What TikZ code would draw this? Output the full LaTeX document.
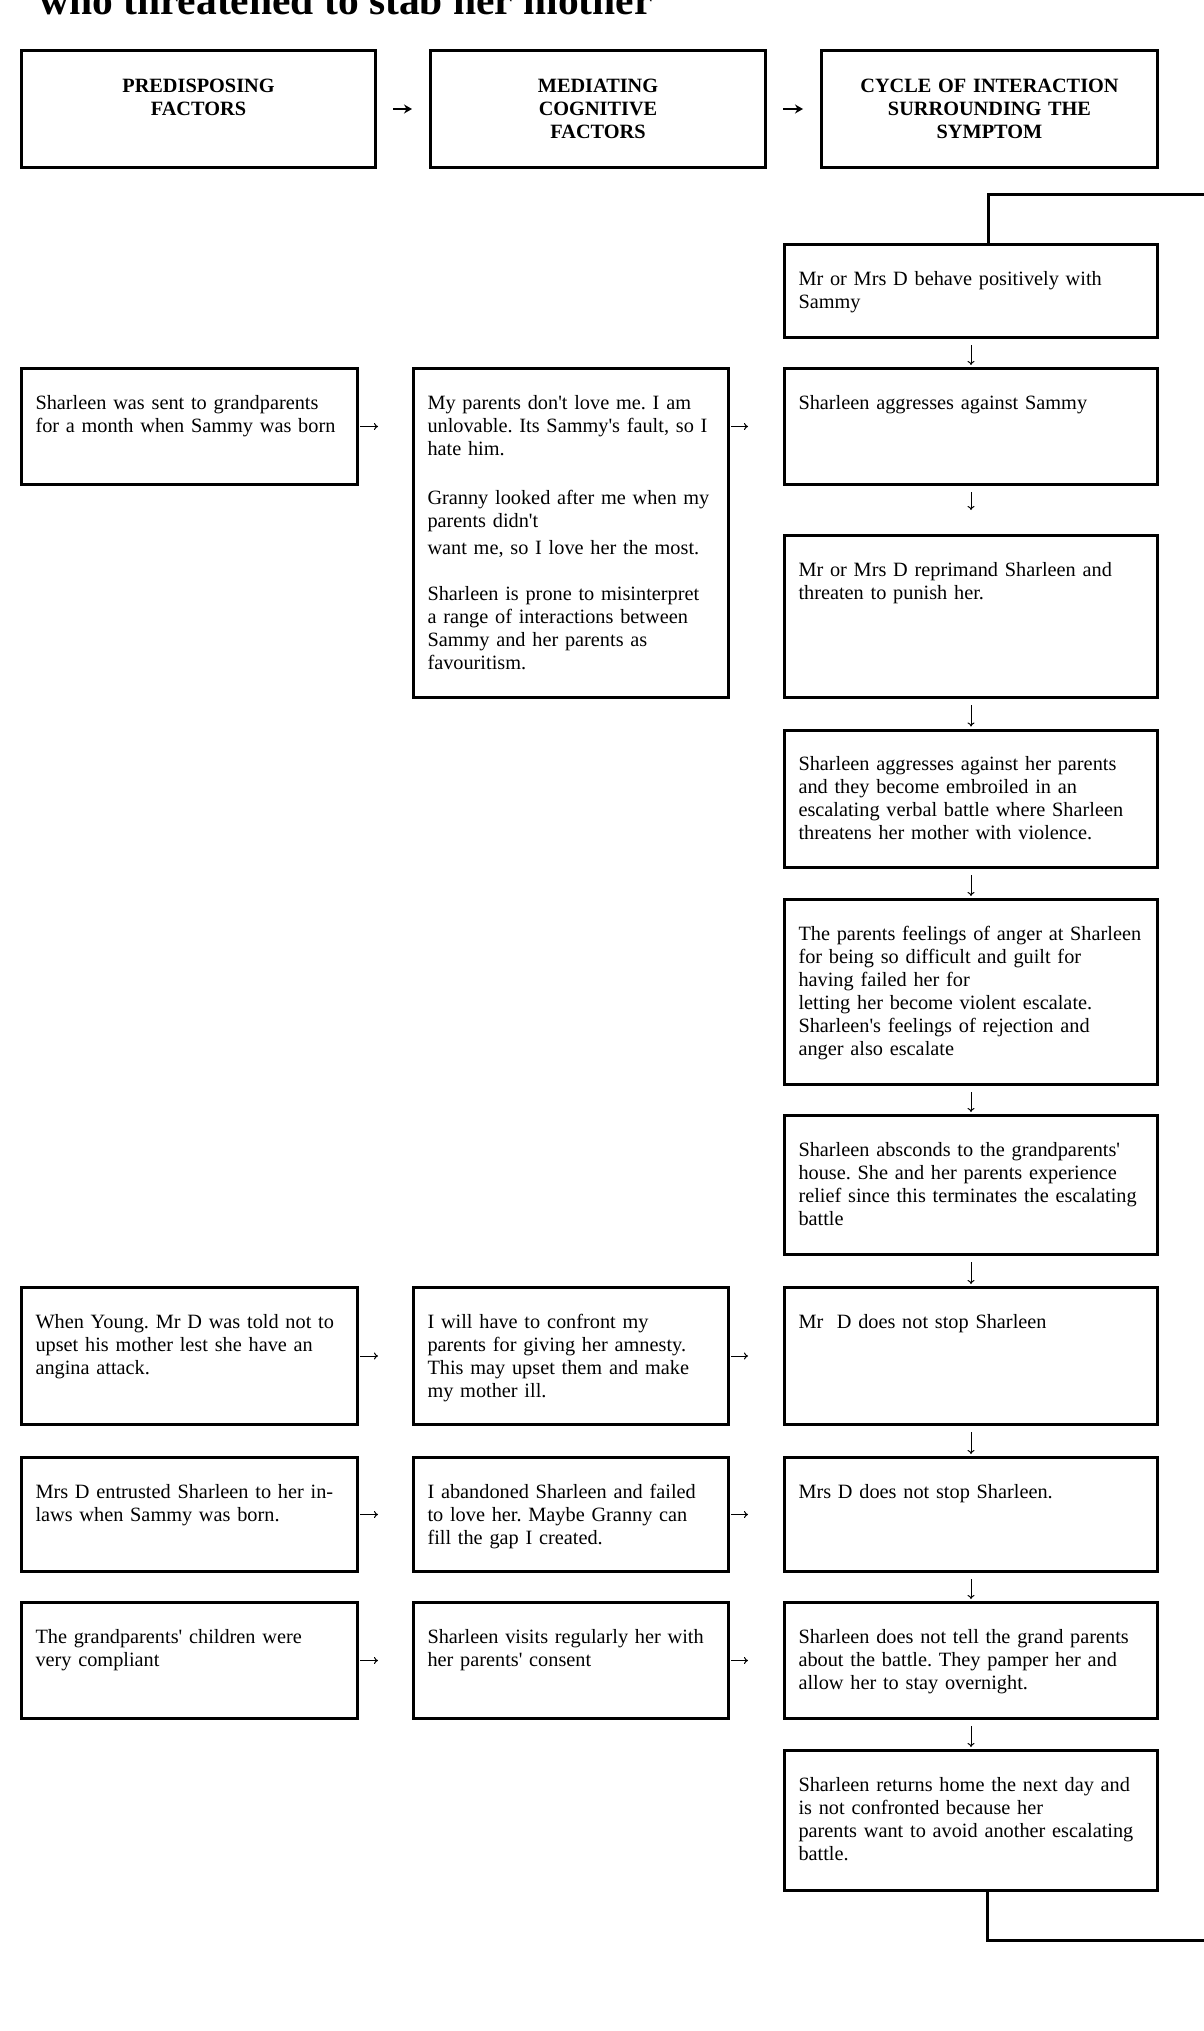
\documentclass[tikz,border=0pt]{standalone}
\usepackage{fontspec}
\setmainfont{Liberation Serif}[Ligatures=TeXOff]
\usetikzlibrary{positioning, arrows.meta}

\newcommand{\cellfont}{\frenchspacing\fontsize{20.3}{23}\selectfont}
\tikzstyle{head} = [rectangle, draw=black, line width=3pt, inner sep=0pt, text height=42pt, text depth=75pt, align=center, font=\cellfont\bfseries]
\tikzstyle{cell} = [rectangle, draw=black, line width=3pt, inner xsep=14pt, inner ysep=0pt, text height=40.5pt, align=left, font=\cellfont]
\tikzstyle{lcol} = [text width=308pt]
\tikzstyle{mcol} = [text width=287pt]
\tikzstyle{rcol} = [text width=345pt]
\tikzset{boxh/.style={text depth={#1-40.5pt}}}
\tikzstyle{arrow} = [line width=1pt, -{To[length=4pt,width=7pt]}]
\tikzstyle{bigarrow} = [line width=2.2pt, -{Stealth[length=8pt,width=9pt]}]
\tikzstyle{loopline} = [line width=3pt]

\begin{document}
\begin{tikzpicture}[x=1pt, y=-1pt]
\useasboundingbox (0,0) rectangle (1203,2031);

% Title (cut off at the top)
\node (title) [anchor=base west, inner sep=0pt, font=\bfseries\fontsize{41.5}{48}\selectfont] at (39,15) {who threatened to stab her mother};

% Column headers
\node (hdr3) [head, text width=336pt, anchor=north east] at (1159,49) {CYCLE OF INTERACTION\\SURROUNDING THE\\SYMPTOM};
\node (hdr2) [head, text width=335pt, left=53pt of hdr3] {MEDIATING\\COGNITIVE\\FACTORS};
\node (hdr1) [head, text width=354pt, left=52pt of hdr2] {PREDISPOSING\\FACTORS};

% Cycle of interaction
\node (r1) [cell, rcol, boxh=93pt] at (971,291) {Mr or Mrs D behave positively with\\Sammy};
\node (r2) [cell, rcol, boxh=116pt, below=28pt of r1] {Sharleen aggresses against Sammy};
\node (r3) [cell, rcol, boxh=162pt, below=48pt of r2] {Mr or Mrs D reprimand Sharleen and\\threaten to punish her.};
\node (r4) [cell, rcol, boxh=137.5pt, below=29.5pt of r3] {Sharleen aggresses against her parents\\and they become embroiled in an\\escalating verbal battle where Sharleen\\threatens her mother with violence.};
\node (r5) [cell, rcol, boxh=185pt, below=29pt of r4] {The parents feelings of anger at Sharleen\\for being so difficult and guilt for\\having failed her for\\letting her become violent escalate.\\Sharleen's feelings of rejection and\\anger also escalate};
\node (r6) [cell, rcol, boxh=139pt, below=28pt of r5] {Sharleen absconds to the grandparents'\\house. She and her parents experience\\relief since this terminates the escalating\\battle};
\node (r7) [cell, rcol, boxh=137pt, below=30pt of r6] {Mr\ \ D does not stop Sharleen};
\node (r8) [cell, rcol, boxh=114pt, below=30pt of r7] {Mrs D does not stop Sharleen.};
\node (r9) [cell, rcol, boxh=116pt, below=28pt of r8] {Sharleen does not tell the grand parents\\about the battle. They pamper her and\\allow her to stay overnight.};
\node (r10) [cell, rcol, boxh=140pt, below=29pt of r9] {Sharleen returns home the next day and\\is not confronted because her\\parents want to avoid another escalating\\battle.};

% Mediating cognitive factors
\node (m1) [cell, mcol, boxh=329pt, anchor=north east] at ([xshift=-53pt]r2.north west) {My parents don't love me. I am\\unlovable. Its Sammy's fault, so I\\hate him.\\[26pt]Granny looked after me when my\\parents didn't\\[4pt]want me, so I love her the most.\\[23pt]Sharleen is prone to misinterpret\\a range of interactions between\\Sammy and her parents as\\favouritism.};
\node (m2) [cell, mcol, boxh=137pt, left=53pt of r7] {I will have to confront my\\parents for giving her amnesty.\\This may upset them and make\\my mother ill.};
\node (m3) [cell, mcol, boxh=114pt, left=53pt of r8] {I abandoned Sharleen and failed\\to love her. Maybe Granny can\\fill the gap I created.};
\node (m4) [cell, mcol, boxh=116pt, left=53pt of r9] {Sharleen visits regularly her with\\her parents' consent};

% Predisposing factors
\node (l1) [cell, lcol, boxh=116pt, anchor=north east] at ([xshift=-53pt]m1.north west) {Sharleen was sent to grandparents\\for a month when Sammy was born};
\node (l2) [cell, lcol, boxh=137pt, left=53pt of m2] {When Young. Mr D was told not to\\upset his mother lest she have an\\angina attack.};
\node (l3) [cell, lcol, boxh=114pt, left=53pt of m3] {Mrs D entrusted Sharleen to her in-\\laws when Sammy was born.};
\node (l4) [cell, lcol, boxh=116pt, left=53pt of m4] {The grandparents' children were\\very compliant};

% Arrows between headers
\draw [bigarrow, shorten <=16pt, shorten >=17pt] (hdr1.east) -- (hdr2.west);
\draw [bigarrow, shorten <=16pt, shorten >=17pt] (hdr2.east) -- (hdr3.west);

% Arrows down the cycle
\draw [arrow, shorten <=6pt, shorten >=2pt] (r1.south) -- (r2.north);
\draw [arrow, shorten <=6pt, shorten >=24pt] (r2.south) -- (r3.north);
\draw [arrow, shorten <=6pt, shorten >=2pt] (r3.south) -- (r4.north);
\draw [arrow, shorten <=6pt, shorten >=2pt] (r4.south) -- (r5.north);
\draw [arrow, shorten <=6pt, shorten >=2pt] (r5.south) -- (r6.north);
\draw [arrow, shorten <=6pt, shorten >=2pt] (r6.south) -- (r7.north);
\draw [arrow, shorten <=6pt, shorten >=2pt] (r7.south) -- (r8.north);
\draw [arrow, shorten <=6pt, shorten >=2pt] (r8.south) -- (r9.north);
\draw [arrow, shorten <=6pt, shorten >=2pt] (r9.south) -- (r10.north);

% Arrows across the rows
\draw [arrow, shorten <=1pt, shorten >=34pt] (l1.east) -- (l1.east -| m1.west);
\draw [arrow, shorten <=1pt, shorten >=35pt] (r2.west -| m1.east) -- (r2.west);
\draw [arrow, shorten <=1pt, shorten >=34pt] (l2.east) -- (m2.west);
\draw [arrow, shorten <=1pt, shorten >=35pt] (m2.east) -- (r7.west);
\draw [arrow, shorten <=1pt, shorten >=34pt] (l3.east) -- (m3.west);
\draw [arrow, shorten <=1pt, shorten >=35pt] (m3.east) -- (r8.west);
\draw [arrow, shorten <=1pt, shorten >=34pt] (l4.east) -- (m4.west);
\draw [arrow, shorten <=1pt, shorten >=35pt] (m4.east) -- (r9.west);

% Loop closing the cycle
\coordinate (loopin) at (1210,194);
\coordinate (loopout) at (1210,1940);
\draw [loopline] ([xshift=17pt]r1.north) |- (loopin);
\draw [loopline] ([xshift=16pt]r10.south) |- (loopout);

\end{tikzpicture}
\end{document}
